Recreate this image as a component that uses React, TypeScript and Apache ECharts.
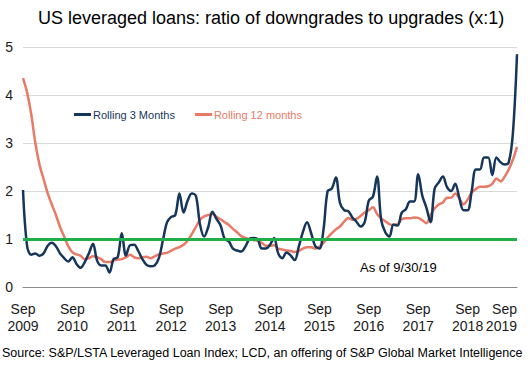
import React, { useEffect, useRef } from "react";
import * as echarts from "echarts";

const MONTH_NAMES = ["Sep", "Oct", "Nov", "Dec", "Jan", "Feb", "Mar", "Apr", "May", "Jun", "Jul", "Aug"];
const START_YEAR = 2009;
const N_MONTHS = 121;

const categories: string[] = [];
for (let i = 0; i < N_MONTHS; i++) {
  const name = MONTH_NAMES[i % 12];
  const year = START_YEAR + Math.floor((i + 8) / 12);
  categories.push(name + " " + year);
}

const rolling3 = [
  2.02, 0.85, 0.67, 0.7, 0.65, 0.7, 0.86, 0.92, 0.85, 0.7, 0.6, 0.53,
  0.62, 0.48, 0.4, 0.52, 0.7, 0.9, 0.55, 0.45, 0.45, 0.3, 0.58, 0.62,
  1.12, 0.65, 0.87, 0.88, 0.75, 0.58, 0.46, 0.43, 0.45, 0.6, 0.98, 1.35,
  1.46, 1.5, 1.95, 1.55, 1.8, 1.95, 1.9, 1.3, 1.05, 1.25, 1.57, 1.42,
  1.28, 1.0, 0.95, 0.8, 0.76, 0.74, 0.84, 1.0, 1.02, 1.0, 0.8, 0.8,
  0.88, 1.02, 0.7, 0.6, 0.72, 0.66, 0.56, 0.84, 1.15, 1.35, 1.12, 0.85,
  0.8, 1.2, 2.0, 2.05, 2.28, 1.75, 1.6, 1.58, 1.45, 1.36, 1.26, 1.35,
  1.8, 1.88, 2.3, 1.4, 1.14, 1.05, 1.3, 1.28, 1.55, 1.62, 1.78, 1.78,
  2.35, 1.9, 1.65, 1.35, 2.05, 2.18, 2.3, 2.08, 2.0, 2.15, 1.85, 1.6,
  1.6, 2.0, 2.45, 2.45, 2.7, 2.7, 2.33, 2.7, 2.6, 2.55, 2.6, 3.2,
  4.85,
];

const rolling12 = [
  4.35, 4.05, 3.6, 3.0, 2.55, 2.25, 1.95, 1.72, 1.5, 1.25, 1.05, 0.85,
  0.72, 0.68, 0.65, 0.58, 0.6, 0.64, 0.62, 0.58, 0.52, 0.52, 0.55, 0.57,
  0.58, 0.62, 0.67, 0.62, 0.6, 0.62, 0.63, 0.6, 0.64, 0.68, 0.7, 0.71,
  0.76, 0.8, 0.83, 0.88, 0.97, 1.1, 1.25, 1.4, 1.47, 1.5, 1.52, 1.46,
  1.41, 1.35, 1.29, 1.21, 1.14, 1.06, 1.02, 1.0, 0.98, 0.96, 0.92, 0.86,
  0.86, 0.87, 0.8, 0.78, 0.76, 0.75, 0.73, 0.75, 0.8, 0.83, 0.83, 0.8,
  0.84, 0.92, 1.03, 1.12, 1.2, 1.26, 1.36, 1.44, 1.4, 1.42, 1.48, 1.55,
  1.6, 1.66, 1.52, 1.43, 1.37, 1.31, 1.29, 1.31, 1.41, 1.43, 1.43, 1.45,
  1.44, 1.39, 1.33, 1.5, 1.64, 1.72, 1.76, 1.86, 1.86, 1.95, 1.85, 1.72,
  1.82, 1.97, 2.04, 2.09, 2.09, 2.1, 2.15, 2.26, 2.2, 2.3, 2.45, 2.65,
  2.92,
];

const REFERENCE_LEVEL = 1;
const yTicks = { min: 0, max: 5, interval: 1 };

const TITLE = "US leveraged loans: ratio of downgrades to upgrades (x:1)";
const SOURCE = "Source: S&P/LSTA Leveraged Loan Index; LCD, an offering of S&P Global Market Intelligence";
const NOTE = "As of 9/30/19";

const NAVY = "#15365a";
const SALMON = "#e97a66";
const GREEN = "#1fae47";
const FONT = "Liberation Sans, Arial, sans-serif";

export default function App() {
  const ref = useRef<HTMLDivElement>(null);
  useEffect(() => {
    if (!ref.current) return;
    const chart = echarts.init(ref.current, undefined, { renderer: "svg" });
    chart.setOption({
      animation: false,
      backgroundColor: "#ffffff",
      textStyle: { fontFamily: FONT },
      title: {
        text: TITLE,
        left: 33,
        top: 4,
        textStyle: { fontSize: 18, fontWeight: "normal", color: "#000", fontFamily: FONT },
      },
      legend: {
        left: 74,
        top: 109,
        icon: "rect",
        itemWidth: 17,
        itemHeight: 3,
        itemGap: 20,
        padding: 0,
        data: [
          { name: "Rolling 3 Months", textStyle: { color: NAVY } },
          { name: "Rolling 12 months", textStyle: { color: SALMON } },
        ],
        textStyle: { fontSize: 11, fontFamily: FONT, padding: [0, 0, 0, -3] },
      },
      grid: { left: 23, right: 13, top: 47, bottom: 88, containLabel: false },
      xAxis: {
        type: "category",
        data: categories,
        boundaryGap: false,
        axisLine: { lineStyle: { color: "#8c8c8c", width: 1 } },
        axisTick: { show: false },
        axisLabel: {
          interval: 11,
          fontSize: 14,
          lineHeight: 17,
          margin: 13,
          color: "#1a1a1a",
          fontFamily: FONT,
          alignMaxLabel: "right",
          formatter: (v: string) => v.replace(" ", "\n"),
        },
        splitLine: { show: false },
      },
      yAxis: {
        type: "value",
        min: yTicks.min,
        max: yTicks.max,
        interval: yTicks.interval,
        axisLine: { show: false },
        axisTick: { show: false },
        axisLabel: { fontSize: 14, color: "#1a1a1a", margin: 10, fontFamily: FONT },
        splitLine: { lineStyle: { color: "#d9d9d9", width: 1 } },
      },
      series: [
        {
          name: "Rolling 12 months",
          type: "line",
          data: rolling12,
          smooth: 0.35,
          showSymbol: false,
          symbol: "none",
          lineStyle: { color: SALMON, width: 2.5 },
          itemStyle: { color: SALMON },
          z: 2,
        },
        {
          name: "Rolling 3 Months",
          type: "line",
          data: rolling3,
          smooth: 0.35,
          showSymbol: false,
          symbol: "none",
          lineStyle: { color: NAVY, width: 2.5 },
          itemStyle: { color: NAVY },
          z: 3,
          markLine: {
            silent: true,
            symbol: "none",
            label: { show: false },
            lineStyle: { color: GREEN, width: 3, type: "solid" },
            data: [{ yAxis: REFERENCE_LEVEL }],
            z: 5,
          },
        },
      ],
      graphic: [
        {
          type: "text",
          left: 360,
          top: 261,
          style: { text: NOTE, fontSize: 13, fill: "#000", fontFamily: FONT },
        },
        {
          type: "text",
          left: 2,
          top: 346,
          style: { text: SOURCE, fontSize: 12.5, fill: "#000", fontFamily: FONT },
        },
      ],
    });
    return () => chart.dispose();
  }, []);
  return (
    <div
      ref={ref}
      style={{ position: "fixed", left: 0, top: 0, width: 530, height: 375, background: "#fff" }}
    />
  );
}
